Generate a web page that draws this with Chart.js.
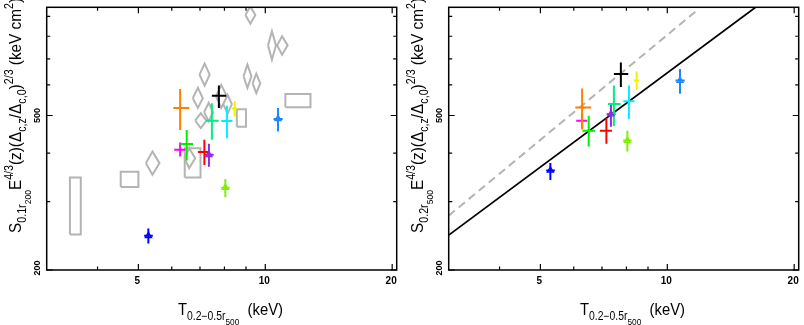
<!DOCTYPE html>
<html>
<head>
<meta charset="utf-8">
<script src="https://cdn.jsdelivr.net/npm/chart.js@4.4.0/dist/chart.umd.min.js"></script>
<style>
  body { margin: 0; background: #fff; }
  canvas { position: absolute; top: 0; }
</style>
</head>
<body>
<canvas id="leftChart" width="402" height="325" style="left:0"></canvas>
<canvas id="rightChart" width="402" height="325" style="left:402px"></canvas>
<script>
// cluster colours (same order in every array below)
const clusterColors = ["#ff8000", "#000000", "#f2f200", "#00f080", "#00f0ff", "#1e88ff",
  "#00f000", "#ff00ff", "#ff0000", "#8a2be2", "#80f000", "#0000ff"];

// T_0.2-0.5r500 (keV)
const tempMid = [6.28, 7.76, 8.46, 7.47, 8.11, 10.72, 6.51, 6.28, 7.17, 7.35, 8.04, 5.28];
const tempLo  = [6.05, 7.47, 8.33, 7.23, 7.86, 10.46, 6.29, 6.08, 6.92, 7.18, 7.86, 5.16];
const tempHi  = [6.60, 8.08, 8.58, 7.75, 8.36, 11.00, 6.74, 6.46, 7.39, 7.54, 8.23, 5.41];

// scaled entropy at 0.1 r200 (left panel)
const sR200Mid = [523, 562, 521, 485, 484, 490, 422, 408, 403, 396, 326, 245];
const sR200Lo  = [459, 523, 497, 433, 437, 455, 383, 392, 373, 369, 308, 234];
const sR200Hi  = [585, 597, 544, 538, 530, 523, 459, 426, 433, 423, 343, 256];

// scaled entropy at 0.2 r500 (right panel)
const sR500Mid = [524, 640, 615, 535, 544, 615, 457, 485, 457, 504, 431, 361];
const sR500Lo  = [460, 592, 582, 470, 489, 569, 416, 464, 423, 468, 404, 341];
const sR500Hi  = [587, 685, 649, 597, 597, 659, 499, 507, 492, 538, 457, 377];

// clusters drawn with a small open triangle
const markedClusters = [5, 9, 10, 11];

// comparison sample, diamonds (left panel)
const diamondT   = [9.22, 10.37, 10.96, 7.18, 9.07, 9.52, 6.92, 7.86, 8.14, 7.03, 7.34, 6.60, 5.40];
const diamondTLo = [8.97, 10.15, 10.67, 6.98, 8.88, 9.33, 6.73, 7.64, 7.95, 6.82, 7.16, 6.43, 5.21];
const diamondTHi = [9.47, 10.60, 11.30, 7.38, 9.27, 9.73, 7.11, 8.11, 8.33, 7.25, 7.52, 6.82, 5.61];
const diamondS   = [908, 758, 758, 637, 631, 605, 554, 560, 535, 485, 510, 388, 377];
const diamondSLo = [862, 696, 717, 597, 589, 571, 523, 523, 505, 464, 483, 366, 352];
const diamondSHi = [955, 824, 800, 680, 676, 641, 589, 600, 565, 507, 539, 412, 404];

// comparison sample, boxes (left panel)
const boxTLo = [3.44, 4.54, 6.44, 8.56, 11.16];
const boxTHi = [3.65, 5.00, 7.02, 9.00, 12.80];
const boxSLo = [247, 327, 346, 468, 525];
const boxSHi = [346, 358, 412, 519, 568];

// relations in the right panel
const fitT = [3.03, 16.2];
const fitS = [246, 950];
const selfSimilarT = [3.03, 11.68];
const selfSimilarS = [276, 927];

// axes
const xRange = [3.03, 20.5];
const yRange = [200, 950];
const xMajor = [5, 10, 20];
const xMinor = [4, 6, 7, 8, 9];
const yMajor = [200, 500];
const yMinor = [300, 400, 600, 700, 800, 900];

const FONT = "'Liberation Sans', Arial, sans-serif";

function crossDatasets(sMid, sLo, sHi) {
  return clusterColors.map((c, i) => ({
    data: [
      { x: tempLo[i], y: sMid[i] }, { x: tempHi[i], y: sMid[i] },
      { x: tempMid[i], y: null },
      { x: tempMid[i], y: sLo[i] }, { x: tempMid[i], y: sHi[i] }
    ],
    showLine: true, borderColor: c, borderWidth: 2, pointRadius: 0, spanGaps: false
  }));
}

function markerDataset(sMid) {
  return {
    data: markedClusters.map(i => ({ x: tempMid[i], y: sMid[i] })),
    pointStyle: "triangle", pointRadius: 3.5, borderWidth: 1.3,
    pointBorderColor: markedClusters.map(i => clusterColors[i]),
    pointBackgroundColor: "rgba(0,0,0,0)"
  };
}

function diamondDataset() {
  let pts = [];
  diamondT.forEach((t, i) => {
    pts.push({ x: diamondTLo[i], y: diamondS[i] }, { x: t, y: diamondSHi[i] },
      { x: diamondTHi[i], y: diamondS[i] }, { x: t, y: diamondSLo[i] },
      { x: diamondTLo[i], y: diamondS[i] }, { x: t, y: null });
  });
  return { data: pts, showLine: true, borderColor: "#b4b4b4", borderWidth: 2, pointRadius: 0 };
}

function boxDataset() {
  let pts = [];
  boxTLo.forEach((t, i) => {
    pts.push({ x: t, y: boxSLo[i] }, { x: t, y: boxSHi[i] },
      { x: boxTHi[i], y: boxSHi[i] }, { x: boxTHi[i], y: boxSLo[i] },
      { x: t, y: boxSLo[i] }, { x: t, y: null });
  });
  return { data: pts, showLine: true, borderColor: "#b4b4b4", borderWidth: 2, pointRadius: 0 };
}

// draw text with sub/superscripts; level 0 normal, 1 sub, 2 sub-sub, -1 super
function partSize(lvl, size) { return lvl === 0 ? size : lvl === 2 ? size * 0.56 : size * 0.7; }
function partFont(lvl, size) { return partSize(lvl, size).toFixed(1) + "px " + FONT; }
function partShift(lvl, size) { return lvl === 1 ? size * 0.3 : lvl === 2 ? size * 0.58 : lvl === -1 ? -size * 0.5 : 0; }

function richWidth(ctx, parts, size) {
  let w = 0;
  parts.forEach(([txt, lvl]) => {
    ctx.font = partFont(lvl, size);
    w += ctx.measureText(txt).width;
  });
  return w;
}

function drawRich(ctx, parts, size, targetWidth) {
  const sx = targetWidth / richWidth(ctx, parts, size);
  ctx.save();
  ctx.scale(sx, 1);
  ctx.textBaseline = "alphabetic";
  ctx.textAlign = "left";
  let x = 0;
  parts.forEach(([txt, lvl]) => {
    ctx.font = partFont(lvl, size);
    ctx.fillText(txt, x, partShift(lvl, size));
    x += ctx.measureText(txt).width;
  });
  ctx.restore();
}

const framePlugin = {
  id: "frame",
  afterDraw(chart, args, opts) {
    const { ctx, chartArea: a, scales: { x, y } } = chart;
    ctx.save();
    ctx.strokeStyle = "#000";
    ctx.fillStyle = "#000";
    ctx.lineWidth = 1.5;
    ctx.strokeRect(a.left, a.top, a.right - a.left, a.bottom - a.top);

    ctx.lineWidth = 1.2;
    ctx.beginPath();
    const xt = (v, len) => {
      const px = x.getPixelForValue(v);
      ctx.moveTo(px, a.bottom); ctx.lineTo(px, a.bottom - len);
      ctx.moveTo(px, a.top); ctx.lineTo(px, a.top + len);
    };
    const yt = (v, len) => {
      const py = y.getPixelForValue(v);
      ctx.moveTo(a.left, py); ctx.lineTo(a.left + len, py);
      ctx.moveTo(a.right, py); ctx.lineTo(a.right - len, py);
    };
    xMajor.forEach(v => xt(v, 6));
    xMinor.forEach(v => xt(v, 3.5));
    yMajor.forEach(v => yt(v, 6));
    yMinor.forEach(v => yt(v, 3.5));
    ctx.stroke();

    // tick labels
    ctx.font = "bold 10px " + FONT;
    ctx.textAlign = "center";
    ctx.textBaseline = "middle";
    xMajor.forEach(v => ctx.fillText(String(v), x.getPixelForValue(v) - 1, a.bottom + 11));
    ctx.font = "bold 9px " + FONT;
    yMajor.forEach(v => {
      ctx.save();
      ctx.translate(a.left - 9, Math.min(y.getPixelForValue(v), a.bottom - 2));
      ctx.rotate(-Math.PI / 2);
      ctx.fillText(String(v), 0, 0);
      ctx.restore();
    });

    // axis titles
    ctx.save();
    ctx.translate(178, 315);
    drawRich(ctx, [["T", 0], ["0.2\u22120.5r", 1], ["500", 2], ["  (keV)", 0]], 17, 105);
    ctx.restore();

    ctx.save();
    ctx.translate(21, 233);
    ctx.rotate(-Math.PI / 2);
    drawRich(ctx, opts.yTitle, 17, 235);
    ctx.restore();
    ctx.restore();
  }
};

function yTitleParts(sub, subsub) {
  return [["S", 0], [sub, 1], [subsub, 2], ["E", 0], ["4/3", -1], ["(z)(\u0394", 0], ["c,z", 1],
    ["/\u0394", 0], ["c,0", 1], [")", 0], ["2/3", -1], [" (keV cm", 0], ["2", -1], [")", 0]];
}

function makeOptions(yTitle) {
  return {
    responsive: false,
    animation: false,
    devicePixelRatio: 1,
    events: [],
    layout: { padding: { left: 46.7, right: 1.4, top: 7.3, bottom: 55 } },
    scales: {
      x: { type: "logarithmic", min: xRange[0], max: xRange[1], display: false },
      y: { type: "logarithmic", min: yRange[0], max: yRange[1], display: false }
    },
    plugins: {
      legend: { display: false },
      tooltip: { enabled: false },
      frame: { yTitle: yTitle }
    }
  };
}

new Chart(document.getElementById("leftChart"), {
  type: "scatter",
  data: {
    datasets: [markerDataset(sR200Mid)]
      .concat(crossDatasets(sR200Mid, sR200Lo, sR200Hi))
      .concat([diamondDataset(), boxDataset()])
  },
  options: makeOptions(yTitleParts("0.1r", "200")),
  plugins: [framePlugin]
});

new Chart(document.getElementById("rightChart"), {
  type: "scatter",
  data: {
    datasets: [markerDataset(sR500Mid)]
      .concat(crossDatasets(sR500Mid, sR500Lo, sR500Hi))
      .concat([
        { data: fitT.map((t, i) => ({ x: t, y: fitS[i] })), showLine: true,
          borderColor: "#000", borderWidth: 1.8, pointRadius: 0 },
        { data: selfSimilarT.map((t, i) => ({ x: t, y: selfSimilarS[i] })), showLine: true,
          borderColor: "#b4b4b4", borderWidth: 2, borderDash: [8, 5], pointRadius: 0 }
      ])
  },
  options: makeOptions(yTitleParts("0.2r", "500")),
  plugins: [framePlugin]
});
</script>
</body>
</html>
